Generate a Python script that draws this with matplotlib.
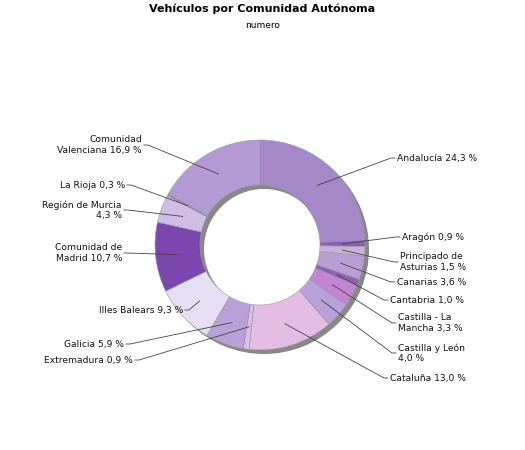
import numpy as np
import matplotlib.pyplot as plt

labels = ["Andalucía 24,3 %", "Aragón 0,9 %", "Principado de\nAsturias 1,5 %", "Canarias 3,6 %",
          "Cantabria 1,0 %", "Castilla - La\nMancha 3,3 %", "Castilla y León\n4,0 %", "Cataluña 13,0 %",
          "Extremadura 0,9 %", "Galicia 5,9 %", "Illes Balears 9,3 %", "Comunidad de\nMadrid 10,7 %",
          "Región de Murcia\n4,3 %", "La Rioja 0,3 %", "Comunidad\nValenciana 16,9 %"]
values = [24.3, 0.9, 1.5, 3.6, 1.0, 3.3, 4.0, 13.0, 0.9, 5.9, 9.3, 10.7, 4.3, 0.3, 16.9]
colors = ["#a488c8", "#8a5cc0", "#c8b0dc", "#b89ed4", "#9060b8", "#c484d4", "#b8a0d8", "#e4bce4",
          "#d8c0e8", "#b8a0d8", "#e6def2", "#7c48b0", "#d0bce4", "#a080c0", "#b49ad4"]
# label anchor points (pixels) and alignment
label_pos = [(397, 158), (402, 237), (400, 262), (397, 282), (390, 300), (398, 323), (398, 353),
             (390, 378), (133, 360), (124, 344), (183, 310), (122, 253), (122, 210), (125, 185), (142, 145)]

W, H = 525, 450
fig = plt.figure(figsize=(5.25, 4.5), dpi=100)
ax = fig.add_axes([0, 0, 1, 1])

cx, cy, R, w = 260, H - 245, 105, 45
# shadow
ax.pie([1], colors=['#888888'], radius=R, center=(cx + 4, cy - 4), startangle=90,
       wedgeprops=dict(width=w, linewidth=0), frame=True)
ax.pie(values, colors=colors, radius=R, center=(cx, cy), startangle=90, counterclock=False,
       wedgeprops=dict(width=w, edgecolor='#999999', linewidth=0.4), frame=True)
ax.set_xlim(0, W)
ax.set_ylim(0, H)
ax.set_aspect('equal')
ax.axis('off')

tot = sum(values)
start = 90.0
for lab, v, (px, py) in zip(labels, values, label_pos):
    mid = np.radians(start - v / tot * 360 / 2)
    start -= v / tot * 360
    r0 = R - w / 2
    x0, y0 = cx + r0 * np.cos(mid), cy + r0 * np.sin(mid)
    right = px > cx
    ty = H - py
    ex = px - 6 if right else px + 6
    ax.plot([x0, ex, px - 2 if right else px + 2], [y0, ty, ty], color='#444444', lw=0.6)
    ax.text(px, ty, lab, ha='left' if right else 'right', va='center', fontsize=6.6,
            linespacing=1.2, color='#111111')

ax.text(W / 2, H - 9, "Vehículos por Comunidad Autónoma", ha='center', va='center',
        fontsize=8, fontweight='bold')
ax.text(W / 2, H - 26, "numero", ha='center', va='center', fontsize=6.5)
fig.savefig("out.png", dpi=100)
